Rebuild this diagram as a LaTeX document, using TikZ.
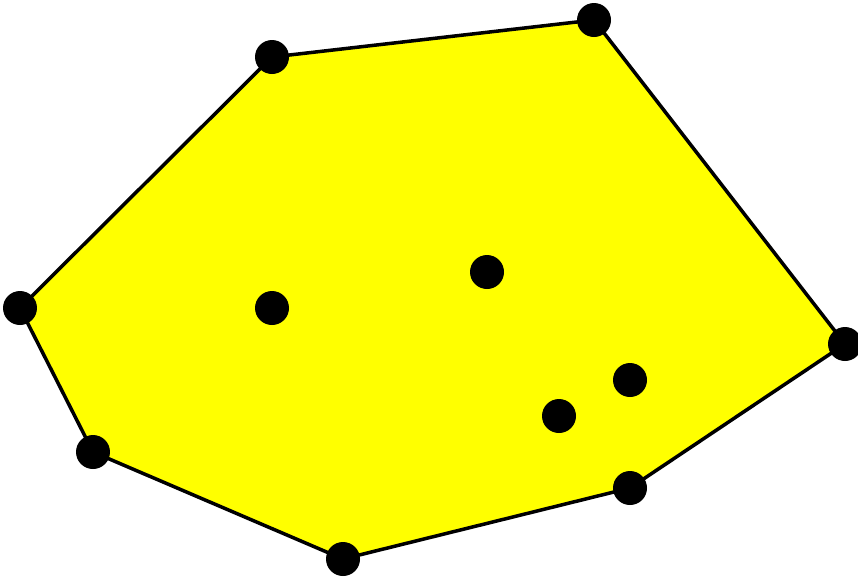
\documentclass[tikz,border=0pt]{standalone}
\usepackage{xcolor}
\definecolor{hullyellow}{rgb}{1.0, 1.0, 0.0}
\usepackage{tikz}
\usetikzlibrary{arrows.meta,positioning}
\tikzset{
  point/.style={circle,fill=black,inner sep=0pt,minimum size=6.8mm},
  hull/.style={draw=black,line width=2pt,fill=hullyellow,line join=miter}
}

\begin{document}
\begin{tikzpicture}[x=0.02cm,y=-0.02cm]
  \useasboundingbox (0,0) rectangle (858,576);

  % Hull points
  \coordinate (h1) at (272,57);
  \coordinate (h2) at (594,20);
  \coordinate (h3) at (845,344);
  \coordinate (h4) at (630,488);
  \coordinate (h5) at (343,559);
  \coordinate (h6) at (93,452);
  \coordinate (h7) at (20,308);

  % Hull polygon
  \path[hull] (h1) -- (h2) -- (h3) -- (h4) -- (h5) -- (h6) -- (h7) -- cycle;

  % Points on the hull
  \foreach \p in {h1,h2,h3,h4,h5,h6,h7}
    \node[point] (p\p) at (\p) {};

  % Inner points
  \node[point] (in1) at (272,308) {};
  \node[point] (in2) at (487,272) {};
  \node[point] (in3) at (630,380) {};
  \node[point] (in4) at (559,416) {};
\end{tikzpicture}
\end{document}
